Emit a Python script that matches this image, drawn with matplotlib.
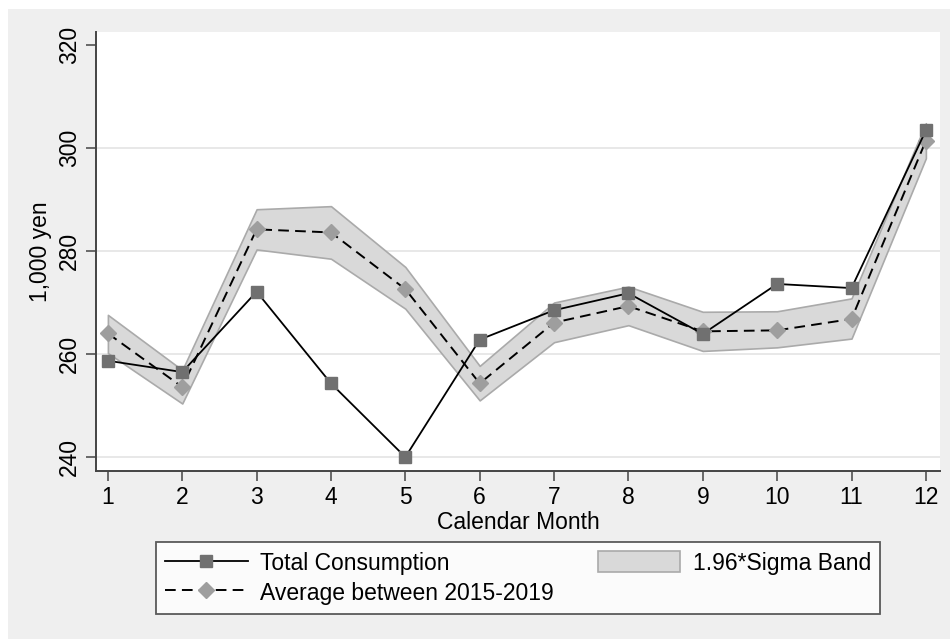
import numpy as np
import matplotlib
matplotlib.use("Agg")
import matplotlib.pyplot as plt
import matplotlib.patches as mpatches
from matplotlib.lines import Line2D

# monthly household consumption, 1,000 yen
months = np.arange(1, 13)
total_consumption = [258.7, 256.5, 272.1, 254.3, 240.0, 262.8, 268.5, 271.8, 263.9, 273.6, 272.8, 303.4]
average_2015_2019 = [264.0, 253.6, 284.2, 283.6, 272.6, 254.3, 266.1, 269.3, 264.4, 264.6, 266.8, 301.4]
band_low = [260.2, 250.4, 280.3, 278.5, 268.8, 251.0, 262.3, 265.6, 260.6, 261.3, 263.0, 298.0]
band_high = [267.6, 256.9, 288.1, 288.7, 276.9, 257.7, 270.0, 273.1, 268.2, 268.3, 270.8, 304.8]
y_ticks = [240, 260, 280, 300, 320]

plt.rcParams['font.family'] = ['Liberation Sans', 'DejaVu Sans']
FS = 16.5
DASH = (0, (5.5, 3.2))

fig = plt.figure(figsize=(9.5, 6.39), dpi=100, facecolor='white')
# light gray graph region behind everything
fig.patches.append(mpatches.Rectangle((8 / 950, 0), 942 / 950, 630 / 639,
                                      transform=fig.transFigure, facecolor='#efefef',
                                      edgecolor='none', zorder=-10))

ax = fig.add_axes([96 / 950, 1 - 471 / 639, 844 / 950, 439 / 639])
ax.set_facecolor('white')

ax.fill_between(months, band_low, band_high, facecolor='#d9d9d9', edgecolor='#aaaaaa',
                linewidth=1.2, zorder=2)
ax.plot(months, average_2015_2019, color='black', linestyle=DASH, linewidth=1.4,
        marker='D', markersize=8, markerfacecolor='#9e9e9e', markeredgecolor='#9e9e9e', zorder=3)
ax.plot(months, total_consumption, color='black', linewidth=1.3,
        marker='s', markersize=8.5, markerfacecolor='#707070', markeredgecolor='#707070', zorder=4)

ax.set_xlim(0.84, 12.19)
ax.set_ylim(237.3, 322.5)
ax.set_xticks(months)
ax.set_yticks(y_ticks)
ax.set_yticklabels([str(v) for v in y_ticks], rotation=90, va='center')
ax.tick_params(axis='both', direction='out', length=7, width=1.1, color='#444444',
               labelsize=FS, pad=4)

# horizontal grid, none on the top tick
ax.yaxis.grid(True, color='#e6e6e6', linewidth=1.3, zorder=0)
ax.yaxis.get_gridlines()[-1].set_visible(False)
ax.set_axisbelow(True)

for s in ['top', 'right']:
    ax.spines[s].set_visible(False)
for s in ['left', 'bottom']:
    ax.spines[s].set_color('#444444')
    ax.spines[s].set_linewidth(1.4)

ax.set_xlabel('Calendar Month', fontsize=FS, labelpad=1)
ax.set_ylabel('1,000 yen', fontsize=FS, labelpad=4)

handles = [
    Line2D([], [], color='black', linewidth=1.3, marker='s', markersize=8.5,
           markerfacecolor='#707070', markeredgecolor='#707070'),
    Line2D([], [], color='black', linestyle=DASH, linewidth=1.4, marker='D',
           markersize=8, markerfacecolor='#9e9e9e', markeredgecolor='#9e9e9e'),
    mpatches.Patch(facecolor='#d9d9d9', edgecolor='#aaaaaa', linewidth=1.2),
]
labels = ['Total Consumption', 'Average between 2015-2019', '1.96*Sigma Band']
leg = fig.legend(handles, labels, ncol=2, loc='center', bbox_to_anchor=(518 / 950, 1 - 578 / 639),
                 fontsize=FS, frameon=True, fancybox=False, edgecolor='#333333',
                 handlelength=3.6, handleheight=1.0, handletextpad=0.55, columnspacing=1.9,
                 labelspacing=0.3, borderpad=0.4, borderaxespad=0)
leg.get_frame().set_linewidth(1.3)

fig.savefig('out.png', dpi=100, facecolor=fig.get_facecolor())
